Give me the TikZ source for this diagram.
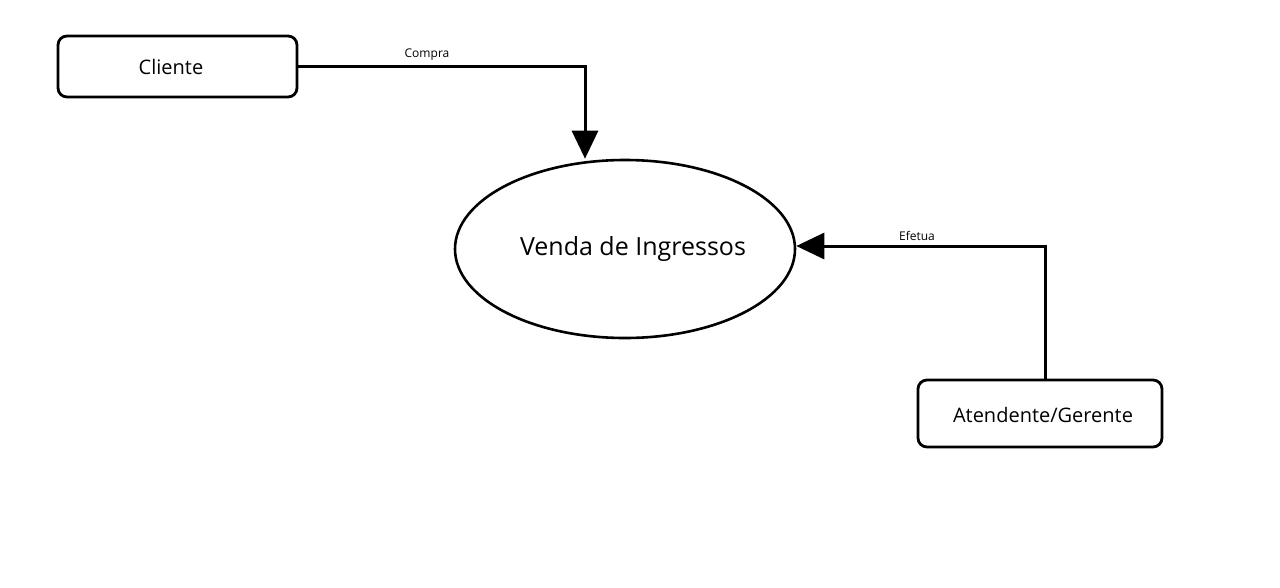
\documentclass[tikz,border=0pt]{standalone}
\usepackage{fontspec}
\setmainfont{Open Sans}
\usetikzlibrary{arrows.meta,shapes.geometric}
\begin{document}
\begin{tikzpicture}[x=1pt,y=-1pt,
  entity/.style={draw,line width=2.8pt,rounded corners=9pt,font=\fontsize{20}{24}\selectfont},
  proc/.style={draw,ellipse,line width=2.6pt,inner sep=0pt,font=\fontsize{25}{30}\selectfont},
  flow/.style={line width=3pt,-{Triangle[length=28pt,width=26pt]}},
  lbl/.style={font=\fontsize{12}{14}\selectfont}]
\useasboundingbox (0,0) rectangle (1280,587);
\node[entity,minimum width=239pt,minimum height=61pt] (cliente) at (177.5,66.5) {};
\node[proc,minimum width=340pt,minimum height=178pt] (venda) at (625,249) {};
\node[entity,minimum width=244pt,minimum height=67pt] (atend) at (1040,413.5) {};
\node[font=\fontsize{20}{24}\selectfont] (tcliente) at (171,66.5) {Cliente};
\node[font=\fontsize{25}{30}\selectfont] (tvenda) at (633,249) {Venda de Ingressos};
\node[font=\fontsize{20}{24}\selectfont] (tatend) at (1043,415) {Atendente/Gerente};
\coordinate (c1) at (585,66);
\coordinate (c2) at (1045,246);
\draw[flow] (cliente.east |- c1) -- (c1) -- (c1 |- venda.north);
\draw[flow] (atend.north -| c2) -- (c2) -- (venda.east |- c2);
\node[lbl] (compra) at (427,55) {Compra};
\node[lbl] (efetua) at (917,236) {Efetua};
\end{tikzpicture}
\end{document}
